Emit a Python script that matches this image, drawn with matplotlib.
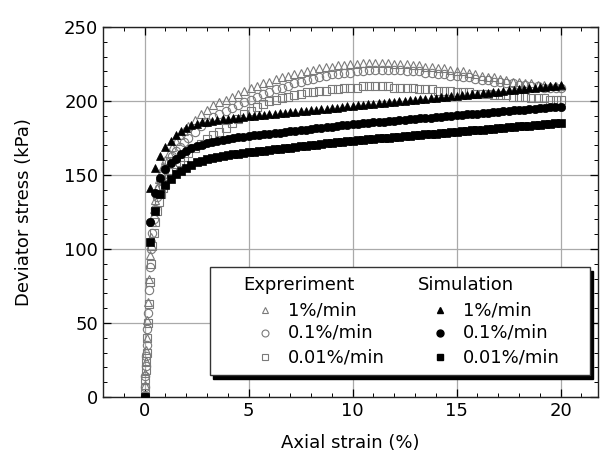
import matplotlib
matplotlib.use('Agg')
import matplotlib.pyplot as plt
from matplotlib.patches import Rectangle
from matplotlib.ticker import MultipleLocator

plt.rcParams['font.family'] = ['DejaVu Sans']
plt.rcParams['font.size'] = 13

# experiment (open markers)
exp_strain = [0, 0.02, 0.04, 0.06, 0.08, 0.1, 0.13, 0.16, 0.2, 0.25,
              0.3, 0.36, 0.43, 0.5, 0.6, 0.7, 0.8, 0.9, 1.0, 1.15,
              1.3, 1.5, 1.7, 1.9, 2.1, 2.4, 2.7, 3.0, 3.3, 3.6,
              3.9, 4.2, 4.5, 4.8, 5.1, 5.4, 5.7, 6.0, 6.3, 6.6,
              6.9, 7.2, 7.5, 7.8, 8.1, 8.4, 8.7, 9.0, 9.3, 9.6,
              9.9, 10.2, 10.5, 10.8, 11.1, 11.4, 11.7, 12.0, 12.3, 12.6,
              12.9, 13.2, 13.5, 13.8, 14.1, 14.4, 14.7, 15.0, 15.3, 15.6,
              15.9, 16.2, 16.5, 16.8, 17.1, 17.4, 17.7, 18.0, 18.3, 18.6,
              18.9, 19.2, 19.5, 19.8, 20.0]
exp_1 = [0, 8, 16, 24, 32, 40, 52, 64, 80, 96,
         108, 118, 127, 133, 141, 147, 152, 156, 160, 165,
         169, 173, 177, 180, 183, 187, 191, 194, 197, 199,
         201, 203, 205, 207, 209, 210, 212, 213, 215, 216,
         217, 218, 219, 220, 221, 222, 223, 223, 224, 224,
         225, 225, 226, 226, 226, 226, 226, 225, 225, 225,
         224, 224, 223, 223, 222, 222, 221, 220, 220, 219,
         218, 217, 216, 216, 215, 214, 213, 213, 212, 212,
         211, 211, 210, 210, 210]
exp_01 = [0, 7, 14, 21, 28, 35, 46, 57, 72, 88,
          100, 111, 120, 127, 135, 141, 146, 150, 154, 159,
          163, 166, 169, 172, 175, 179, 183, 186, 189, 191,
          193, 195, 197, 199, 201, 203, 205, 206, 208, 209,
          210, 212, 213, 214, 215, 216, 217, 218, 218, 219,
          219, 220, 220, 221, 221, 221, 221, 221, 221, 220,
          220, 220, 219, 219, 218, 218, 217, 217, 216, 216,
          215, 214, 214, 213, 213, 212, 212, 211, 211, 210,
          210, 209, 209, 209, 209]
exp_001 = [0, 6, 12, 18, 24, 30, 40, 50, 63, 78,
           90, 102, 111, 118, 126, 132, 137, 141, 144, 148,
           152, 156, 159, 162, 165, 168, 171, 174, 177, 179,
           182, 185, 188, 191, 193, 196, 198, 200, 201, 202,
           203, 204, 205, 206, 206, 207, 207, 208, 208, 209,
           209, 209, 210, 210, 210, 210, 210, 209, 209, 209,
           209, 208, 208, 208, 207, 207, 207, 206, 206, 206,
           205, 205, 205, 204, 204, 204, 203, 203, 203, 202,
           202, 202, 201, 201, 201]

# simulation (filled markers)
sim_strain = [0, 0.25, 0.5, 0.75, 1, 1.25, 1.5, 1.75, 2, 2.25, 2.5, 2.75,
              3, 3.25, 3.5, 3.75, 4, 4.25, 4.5, 4.75, 5, 5.25, 5.5, 5.75,
              6, 6.25, 6.5, 6.75, 7, 7.25, 7.5, 7.75, 8, 8.25, 8.5, 8.75,
              9, 9.25, 9.5, 9.75, 10, 10.25, 10.5, 10.75, 11, 11.25, 11.5, 11.75,
              12, 12.25, 12.5, 12.75, 13, 13.25, 13.5, 13.75, 14, 14.25, 14.5, 14.75,
              15, 15.25, 15.5, 15.75, 16, 16.25, 16.5, 16.75, 17, 17.25, 17.5, 17.75,
              18, 18.25, 18.5, 18.75, 19, 19.25, 19.5, 19.75, 20]
sim_1 = [0, 141, 155, 163, 169, 173, 177, 180, 182, 183.5, 184.5, 185.5,
         186, 186.5, 187, 187.5, 188, 188.4, 188.8, 189.2, 189.6, 190, 190.3, 190.7,
         191, 191.4, 191.7, 192.1, 192.4, 192.8, 193.1, 193.5, 193.8, 194.2, 194.5, 194.9,
         195.2, 195.6, 195.9, 196.3, 196.6, 197, 197.3, 197.7, 198, 198.4, 198.7, 199.1,
         199.4, 199.8, 200.1, 200.5, 200.8, 201.2, 201.5, 201.9, 202.2, 202.6, 202.9, 203.3,
         203.6, 204, 204.3, 204.7, 205, 205.4, 205.7, 206.1, 206.4, 206.8, 207.1, 207.5,
         207.8, 208.2, 208.5, 208.9, 209.2, 209.6, 209.9, 210.3, 210.5]
sim_01 = [0, 118, 138, 148, 154, 158, 161, 164, 166.5, 168, 169.5, 170.5,
          171.5, 172.3, 173, 173.7, 174.3, 174.9, 175.4, 175.9, 176.3, 176.7, 177.1, 177.5,
          177.9, 178.3, 178.7, 179.1, 179.5, 179.9, 180.3, 180.7, 181.1, 181.5, 181.9, 182.3,
          182.7, 183.1, 183.5, 183.9, 184.3, 184.6, 184.9, 185.2, 185.5, 185.8, 186.1, 186.4,
          186.7, 187, 187.3, 187.6, 187.9, 188.2, 188.5, 188.8, 189.1, 189.4, 189.7, 190,
          190.3, 190.6, 190.9, 191.2, 191.5, 191.8, 192.1, 192.4, 192.7, 193, 193.3, 193.6,
          193.9, 194.2, 194.5, 194.8, 195.1, 195.4, 195.7, 196, 196.2]
sim_001 = [0, 105, 126, 137, 143, 147, 150.5, 153, 155, 157, 158.5, 159.5,
           160.5, 161.3, 162, 162.7, 163.3, 163.9, 164.4, 164.9, 165.3, 165.7, 166.1, 166.5,
           166.9, 167.3, 167.7, 168.1, 168.5, 168.9, 169.3, 169.7, 170.1, 170.5, 170.9, 171.3,
           171.7, 172.1, 172.5, 172.9, 173.2, 173.5, 173.8, 174.1, 174.4, 174.7, 175, 175.3,
           175.6, 175.9, 176.2, 176.5, 176.8, 177.1, 177.4, 177.7, 178, 178.3, 178.6, 178.9,
           179.2, 179.5, 179.8, 180.1, 180.4, 180.7, 181, 181.3, 181.6, 181.9, 182.2, 182.5,
           182.8, 183.1, 183.4, 183.7, 184, 184.3, 184.6, 184.9, 185]

rate_labels = ['1%/min', '0.1%/min', '0.01%/min']
markers = ['^', 'o', 's']

fig = plt.figure(figsize=(6.03, 4.59), dpi=100)
ax = fig.add_axes([0.1708, 0.1351, 0.8209, 0.8061])

grey = '#7a7a7a'
for ys, m in zip([exp_1, exp_01, exp_001], markers):
    ax.plot(exp_strain, ys, ls='none', marker=m, ms=6, mfc='none', mec=grey, mew=0.8, zorder=3)
for ys, m in zip([sim_1, sim_01, sim_001], markers):
    ax.plot(sim_strain, ys, ls='none', marker=m, ms=6, mfc='black', mec='black', mew=0.5, zorder=4)

ax.set_xlim(-2, 21.8)
ax.set_ylim(0, 250)
ax.xaxis.set_major_locator(MultipleLocator(5))
ax.xaxis.set_minor_locator(MultipleLocator(1))
ax.yaxis.set_major_locator(MultipleLocator(50))
ax.yaxis.set_minor_locator(MultipleLocator(10))
ax.tick_params(which='both', direction='in', top=True, right=True, labelsize=13)
ax.tick_params(which='major', length=6, width=0.9)
ax.tick_params(which='minor', length=3, width=0.7)
ax.grid(True, which='major', color='#aaaaaa', lw=0.9)
ax.set_axisbelow(True)
for s in ax.spines.values():
    s.set_linewidth(1.0)
    s.set_color('#222222')

ax.set_xlabel('Axial strain (%)', fontsize=13, labelpad=10)
ax.set_ylabel('Deviator stress (kPa)', fontsize=13, labelpad=22)

# legend box with black shadow
tr = ax.transAxes
ax.add_patch(Rectangle((0.222, 0.048), 0.768, 0.292, transform=tr, facecolor='black',
                       edgecolor='black', zorder=5))
ax.add_patch(Rectangle((0.216, 0.0595), 0.768, 0.292, transform=tr, facecolor='white',
                       edgecolor='#333333', lw=1.0, zorder=6))
ax.text(0.283, 0.303, 'Expreriment', transform=tr, va='center', ha='left', fontsize=13, zorder=7)
ax.text(0.636, 0.303, 'Simulation', transform=tr, va='center', ha='left', fontsize=13, zorder=7)
row_y = [0.235, 0.173, 0.108]
for lab, m, yy in zip(rate_labels, markers, row_y):
    ax.plot([0.327], [yy], transform=tr, marker=m, ms=5, mfc='none', mec=grey, mew=0.8, zorder=7)
    ax.text(0.374, yy, lab, transform=tr, va='center', ha='left', fontsize=13, zorder=7)
    ax.plot([0.681], [yy], transform=tr, marker=m, ms=5, mfc='black', mec='black', zorder=7)
    ax.text(0.727, yy, lab, transform=tr, va='center', ha='left', fontsize=13, zorder=7)

fig.savefig('out.png', dpi=100)
